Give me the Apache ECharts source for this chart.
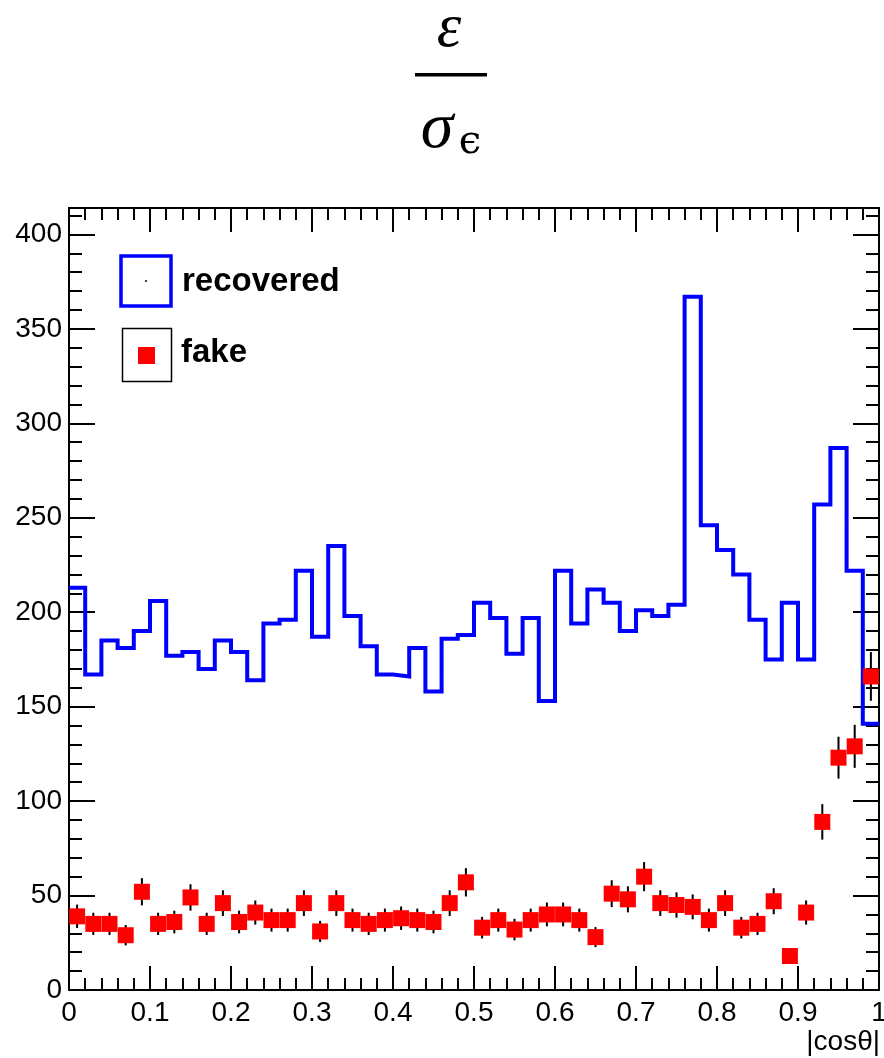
<!DOCTYPE html>
<html>
<head>
<meta charset="utf-8">
<script src="https://cdn.jsdelivr.net/npm/echarts@6/dist/echarts.min.js"></script>
<style>
  html, body { margin: 0; padding: 0; background: #ffffff; }
  #chart { width: 884px; height: 1058px; }
</style>
</head>
<body>
<div id="chart"></div>
<script>
// Binning of |cos(theta)|: 50 bins from 0 to 1
const binLow = 0;
const binWidth = 0.02;

// Recovered entries per bin (drawn as a step histogram)
const recovered = [213, 167, 185, 181, 190, 206, 177, 179, 170, 185,
                   179, 164, 194, 196, 222, 187, 235, 198, 182, 167,
                   166, 181, 158, 186, 188, 205, 197, 178, 197, 153,
                   222, 194, 212, 205, 190, 201, 198, 204, 367, 246,
                   233, 220, 196, 175, 205, 175, 257, 287, 222, 141];

// Fake entries per bin and their statistical uncertainty
const fake = [39, 35, 35, 29, 52, 35, 36, 49, 35, 46,
              36, 41, 37, 37, 46, 31, 46, 37, 35, 37,
              38, 37, 36, 46, 57, 33, 37, 32, 37, 40,
              40, 37, 28, 51, 48, 60, 46, 45, 44, 37,
              46, 33, 35, 47, 18, 41, 89, 123, 129, 166];
const fakeErr = [6.2, 5.9, 5.9, 5.4, 7.2, 5.9, 6.0, 7.0, 5.9, 6.8,
                 6.0, 6.4, 6.1, 6.1, 6.8, 5.6, 6.8, 6.1, 5.9, 6.1,
                 6.2, 6.1, 6.0, 6.8, 7.5, 5.7, 6.1, 5.7, 6.1, 6.3,
                 6.3, 6.1, 5.3, 7.1, 6.9, 7.7, 6.8, 6.7, 6.6, 6.1,
                 6.8, 5.7, 5.9, 6.9, 4.2, 6.4, 9.4, 11.1, 11.4, 12.9];

// Axis ranges and tick positions
const xRange = [0, 1];
const yRange = [0, 414];
const xMajorTicks = [0, 0.1, 0.2, 0.3, 0.4, 0.5, 0.6, 0.7, 0.8, 0.9, 1];
const xMinorTicks = [0.02, 0.04, 0.06, 0.08, 0.12, 0.14, 0.16, 0.18, 0.22, 0.24, 0.26, 0.28,
                     0.32, 0.34, 0.36, 0.38, 0.42, 0.44, 0.46, 0.48, 0.52, 0.54, 0.56, 0.58,
                     0.62, 0.64, 0.66, 0.68, 0.72, 0.74, 0.76, 0.78, 0.82, 0.84, 0.86, 0.88,
                     0.92, 0.94, 0.96, 0.98];
const yMajorTicks = [0, 50, 100, 150, 200, 250, 300, 350, 400];
const yMinorTicks = [10, 20, 30, 40, 60, 70, 80, 90, 110, 120, 130, 140, 160, 170, 180, 190,
                     210, 220, 230, 240, 260, 270, 280, 290, 310, 320, 330, 340, 360, 370, 380, 390, 410];

const xTitle = '|cosθ|';
const seriesNames = ['recovered', 'fake'];

const FONT = '"Liberation Sans", Arial, Helvetica, sans-serif';
const SERIF = '"Liberation Serif", "DejaVu Serif", serif';

// Histogram outline: one point per lower bin edge plus the closing upper edge
const recoveredSteps = recovered.map((v, i) => [binLow + i * binWidth, v]);
recoveredSteps.push([binLow + recovered.length * binWidth, recovered[recovered.length - 1]]);

const binCenter = i => binLow + (i + 0.5) * binWidth;
const fakePoints = fake.map((v, i) => [binCenter(i), v]);
const fakeBars = fake.map((v, i) => [binCenter(i), v, fakeErr[i]]);

function valueAxis(range, position, ticks, tickLen, withLabels, withLine) {
  return {
    type: 'value',
    position: position,
    min: range[0],
    max: range[1],
    axisLine: { show: withLine, onZero: false, lineStyle: { color: '#000', width: 2 } },
    axisTick: { show: true, inside: true, length: tickLen, customValues: ticks,
                lineStyle: { color: '#000', width: 2 } },
    axisLabel: withLabels
      ? { show: true, customValues: ticks, color: '#000', fontFamily: FONT, fontSize: 28,
          margin: position === 'left' ? 7 : 9 }
      : { show: false },
    splitLine: { show: false },
    minorTick: { show: false }
  };
}

const chart = echarts.init(document.getElementById('chart'), null, { renderer: 'canvas' });

chart.setOption({
  animation: false,
  backgroundColor: '#ffffff',
  grid: { left: 69, top: 208, width: 810, height: 782, containLabel: false, outerBoundsMode: 'none' },
  xAxis: [
    valueAxis(xRange, 'bottom', xMajorTicks, 24, true, true),
    valueAxis(xRange, 'bottom', xMinorTicks, 12, false, false),
    valueAxis(xRange, 'top', xMajorTicks, 24, false, true),
    valueAxis(xRange, 'top', xMinorTicks, 12, false, false)
  ],
  yAxis: [
    valueAxis(yRange, 'left', yMajorTicks, 26, true, true),
    valueAxis(yRange, 'left', yMinorTicks, 13, false, false),
    valueAxis(yRange, 'right', yMajorTicks, 26, false, true),
    valueAxis(yRange, 'right', yMinorTicks, 13, false, false)
  ],
  series: [
    {
      name: seriesNames[0],
      type: 'line',
      step: 'end',
      xAxisIndex: 0,
      yAxisIndex: 0,
      data: recoveredSteps,
      showSymbol: false,
      symbol: 'none',
      lineStyle: { color: '#0000ff', width: 4, join: 'miter', opacity: 1 },
      z: 3
    },
    {
      name: seriesNames[1] + ' errors',
      type: 'custom',
      xAxisIndex: 0,
      yAxisIndex: 0,
      data: fakeBars,
      renderItem: function (params, api) {
        const x = api.value(0), v = api.value(1), e = api.value(2);
        const p1 = api.coord([x, v - e]);
        const p2 = api.coord([x, v + e]);
        return {
          type: 'line',
          shape: { x1: p1[0], y1: p1[1], x2: p2[0], y2: p2[1] },
          style: { stroke: '#000', lineWidth: 2 }
        };
      },
      z: 4
    },
    {
      name: seriesNames[1],
      type: 'scatter',
      xAxisIndex: 0,
      yAxisIndex: 0,
      data: fakePoints,
      symbol: 'rect',
      symbolSize: 16,
      itemStyle: { color: '#ff0000', opacity: 1 },
      emphasis: { disabled: true },
      z: 5
    }
  ],
  graphic: [
    // Title: epsilon over sigma_epsilon
    { type: 'text', x: 449, y: 30, z: 10,
      style: { text: 'ε', font: 'italic 62px ' + SERIF, fill: '#000', align: 'center', verticalAlign: 'middle' } },
    { type: 'rect', shape: { x: 415, y: 73, width: 72, height: 3.5 }, style: { fill: '#000' } },
    { type: 'text', x: 437, y: 130, z: 10,
      style: { text: 'σ', font: 'italic 66px ' + SERIF, fill: '#000', align: 'center', verticalAlign: 'middle' } },
    { type: 'text', x: 470, y: 143, z: 10,
      style: { text: 'ϵ', font: '40px "DejaVu Serif", serif', fill: '#000', align: 'center', verticalAlign: 'middle' } },

    // Legend
    { type: 'rect', shape: { x: 121, y: 256, width: 50, height: 50 },
      style: { fill: 'none', stroke: '#0000ff', lineWidth: 3.5 }, z: 10 },
    { type: 'circle', shape: { cx: 146, cy: 281, r: 1 }, style: { fill: '#000' }, z: 10 },
    { type: 'text', x: 182, y: 282, z: 10,
      style: { text: seriesNames[0], font: 'bold 33px ' + FONT, fill: '#000', verticalAlign: 'middle' } },
    { type: 'rect', shape: { x: 122.5, y: 328.5, width: 49, height: 53 },
      style: { fill: 'none', stroke: '#000', lineWidth: 1.5 }, z: 10 },
    { type: 'rect', shape: { x: 138, y: 347, width: 17, height: 17 }, style: { fill: '#ff0000' }, z: 10 },
    { type: 'text', x: 181, y: 353, z: 10,
      style: { text: seriesNames[1], font: 'bold 33px ' + FONT, fill: '#000', verticalAlign: 'middle' } },

    // x axis title
    { type: 'text', x: 880, y: 1042, z: 10,
      style: { text: xTitle, font: '28px ' + FONT, fill: '#000', align: 'right', verticalAlign: 'middle' } }
  ]
});
</script>
</body>
</html>
